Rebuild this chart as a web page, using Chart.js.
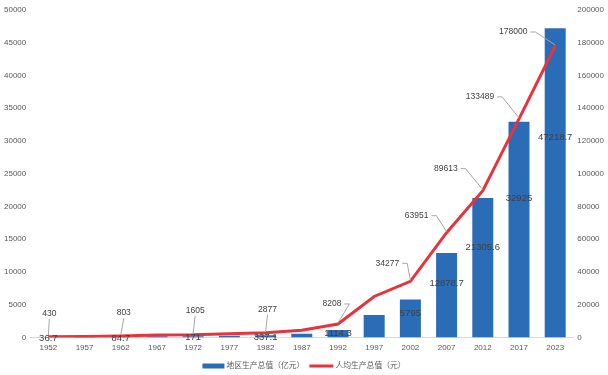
<!DOCTYPE html>
<html>
<head>
<meta charset="utf-8">
<script src="https://cdn.jsdelivr.net/npm/chart.js@4.4.1/dist/chart.umd.min.js"></script>
<style>
  html, body { margin: 0; padding: 0; background: #fff; }
  #wrap { width: 608px; height: 375px; }
</style>
</head>
<body>
<div id="wrap"><canvas id="myChart"></canvas></div>
<script>
// values (unlabelled years are estimates)
const years = ['1952', '1957', '1962', '1967', '1972', '1977', '1982', '1987', '1992', '1997', '2002', '2007', '2012', '2017', '2023']
const gdp = [36.7, 64, 84.7, 159, 171, 248, 337.1, 545, 1114.3, 3439, 5795, 12878.7, 21305.6, 32925, 47218.7]
const perCapita = [430, 600, 803, 1400, 1605, 2300, 2877, 4400, 8208, 25000, 34277, 63951, 89613, 133489, 178000]
const labelled = [0, 2, 4, 6, 8, 10, 11, 12, 13, 14]

const FONT = "'Liberation Sans', Arial, 'Noto Sans CJK SC', sans-serif"
const BLUE = '#2b6cb6'
const RED = '#e8333d'

// label placement for the line, relative to each point
const lineLabelOffset = {
    0: [1, -23], 2: [3, -23], 4: [2, -24], 6: [2, -23], 8: [-6, -20],
    10: [-23, -18], 11: [-30, -17], 12: [-37, -22], 13: [-39, -22], 14: [-42, -14]
}

const valueLabels = {
    id: 'valueLabels',
    afterDatasetsDraw(chart) {
        const ctx = chart.ctx
        const yL = chart.scales.y
        const barMeta = chart.getDatasetMeta(0)
        const lineMeta = chart.getDatasetMeta(1)
        ctx.save()
        // line labels with leader lines
        ctx.font = '8.5px ' + FONT
        ctx.textBaseline = 'middle'
        ctx.textAlign = 'center'
        labelled.forEach(i => {
            const p = lineMeta.data[i]
            const off = lineLabelOffset[i]
            const lx = p.x + off[0]
            const ly = p.y + off[1]
            const txt = String(perCapita[i])
            const w = ctx.measureText(txt).width
            ctx.fillStyle = '#404040'
            ctx.fillText(txt, lx, ly)
            ctx.strokeStyle = '#a6a6a6'
            ctx.lineWidth = 1
            ctx.beginPath()
            if (i < 8) {
                ctx.moveTo(lx, ly + 5)
                ctx.lineTo(p.x, p.y - 1)
            } else {
                ctx.moveTo(lx + w / 2 + 3, ly)
                ctx.lineTo(lx + w / 2 + 8, ly)
                ctx.lineTo(p.x, p.y - 1)
            }
            ctx.stroke()
        })
        // bar labels
        ctx.font = '9.5px ' + FONT
        ctx.fillStyle = '#404040'
        labelled.forEach(i => {
            const b = barMeta.data[i]
            ctx.fillText(String(gdp[i]), b.x, yL.getPixelForValue(gdp[i] * 0.65) + 1)
        })
        ctx.restore()
    },
    afterDraw(chart) {
        // legend drawn by hand: bar swatch, then line swatch
        const ctx = chart.ctx
        const names = chart.data.datasets.map(d => d.label)
        ctx.save()
        ctx.font = '7.8px ' + FONT
        ctx.textBaseline = 'middle'
        ctx.textAlign = 'left'
        const w0 = ctx.measureText(names[0]).width
        const w1 = ctx.measureText(names[1]).width
        const total = 22 + 2 + w0 + 5 + 24 + 2 + w1
        let x = (chart.width - total) / 2
        const y = 366
        ctx.fillStyle = BLUE
        ctx.fillRect(x, y - 2.5, 22, 5)
        x += 24
        ctx.fillStyle = '#595959'
        ctx.fillText(names[0], x, y)
        x += w0 + 5
        ctx.strokeStyle = RED
        ctx.lineWidth = 3
        ctx.beginPath()
        ctx.moveTo(x, y)
        ctx.lineTo(x + 24, y)
        ctx.stroke()
        x += 26
        ctx.fillText(names[1], x, y)
        ctx.restore()
    }
}

const plain = v => String(v)

const ctx = document.getElementById('myChart')
const myChart = new Chart(ctx, {
    type: 'bar',
    data: {
        labels: years,
        datasets: [{
            label: '地区生产总值（亿元）',
            data: gdp,
            yAxisID: 'y',
            backgroundColor: BLUE,
            categoryPercentage: 1,
            barPercentage: 0.58,
            order: 2
        }, {
            type: 'line',
            label: '人均生产总值（元）',
            data: perCapita,
            yAxisID: 'y1',
            borderColor: RED,
            backgroundColor: RED,
            borderWidth: 3,
            pointRadius: 0,
            tension: 0,
            order: 1
        }]
    },
    options: {
        responsive: true,
        maintainAspectRatio: false,
        animation: false,
        layout: { padding: { top: 10, left: 0, right: 0, bottom: 16 } },
        scales: {
            x: {
                grid: { display: false, drawTicks: false },
                border: { display: true, color: '#d9d9d9' },
                ticks: { color: '#595959', font: { size: 8, family: FONT }, padding: 6, maxRotation: 0 }
            },
            y: {
                position: 'left',
                min: 0,
                max: 50000,
                grid: { display: false, drawTicks: false },
                border: { display: false },
                ticks: { stepSize: 5000, color: '#595959', font: { size: 8, family: FONT }, padding: 4, callback: plain }
            },
            y1: {
                position: 'right',
                min: 0,
                max: 200000,
                grid: { display: false, drawTicks: false },
                border: { display: false },
                ticks: { stepSize: 20000, color: '#595959', font: { size: 8, family: FONT }, padding: 4, callback: plain }
            }
        },
        plugins: {
            legend: { display: false },
            tooltip: { enabled: false }
        }
    },
    plugins: [valueLabels]
})
</script>
</body>
</html>
